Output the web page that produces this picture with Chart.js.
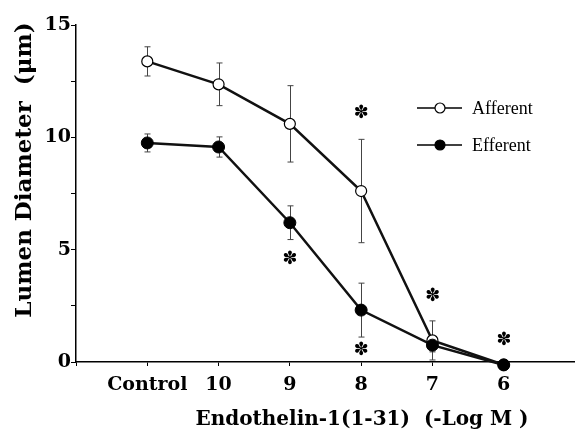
<!DOCTYPE html>
<html>
<head>
<meta charset="utf-8">
<script src="https://cdn.jsdelivr.net/npm/chart.js@4"></script>
<style>
  html, body { margin: 0; padding: 0; background: #fff; }
  canvas { display: block; }
</style>
</head>
<body>
<canvas id="diameterChart" width="575" height="430"></canvas>
<script>
// Data
const doses = ['Control', '10', '9', '8', '7', '6'];
const afferent = [13.38, 12.36, 10.6, 7.61, 0.96, -0.12];
const afferentErr = [0.65, 0.95, 1.7, 2.3, 0.87, 0];
const efferent = [9.75, 9.57, 6.2, 2.31, 0.75, -0.13];
const efferentErr = [0.4, 0.45, 0.75, 1.2, 0.3, 0];
const starDose = [3, 2, 3, 4, 5];
const starValue = [11.07, 4.58, 0.53, 2.93, 0.98];
const yTicks = [0, 5, 10, 15];

const serifBold = "'DejaVu Serif', serif";
const toPoints = arr => arr.map((v, i) => ({ x: i, y: v }));

// error bars, asterisks, legend and axis titles
const overlay = {
  id: 'overlay',
  beforeDatasetsDraw(chart) {
    const { ctx, scales: { x, y } } = chart;
    ctx.save();
    ctx.strokeStyle = '#444';
    ctx.lineWidth = 1;
    [[afferent, afferentErr], [efferent, efferentErr]].forEach(([vals, errs]) => {
      vals.forEach((v, i) => {
        if (!errs[i]) return;
        const px = Math.round(x.getPixelForValue(i)) + 0.5;
        const top = y.getPixelForValue(v + errs[i]);
        const bot = y.getPixelForValue(v - errs[i]);
        ctx.beginPath();
        ctx.moveTo(px, top); ctx.lineTo(px, bot);
        ctx.moveTo(px - 3, top); ctx.lineTo(px + 3, top);
        ctx.moveTo(px - 3, bot); ctx.lineTo(px + 3, bot);
        ctx.stroke();
      });
    });
    ctx.restore();
  },
  afterDraw(chart) {
    const { ctx, scales: { x, y } } = chart;
    ctx.save();
    ctx.fillStyle = '#000';
    ctx.textAlign = 'center';
    ctx.textBaseline = 'middle';
    ctx.font = "bold 18px 'DejaVu Sans'";
    starDose.forEach((d, i) => {
      ctx.fillText('\u273D', x.getPixelForValue(d), y.getPixelForValue(starValue[i]));
    });

    // legend
    const rows = [['Afferent', false, 108], ['Efferent', true, 145]];
    rows.forEach(([label, filled, ly]) => {
      ctx.strokeStyle = '#000';
      ctx.lineWidth = 1.5;
      ctx.beginPath();
      ctx.moveTo(417, ly); ctx.lineTo(462, ly);
      ctx.stroke();
      ctx.beginPath();
      ctx.arc(440, ly, 5, 0, Math.PI * 2);
      ctx.fillStyle = filled ? '#000' : '#fff';
      ctx.fill();
      ctx.lineWidth = 1.2;
      ctx.stroke();
      ctx.fillStyle = '#000';
      ctx.textAlign = 'left';
      ctx.font = "18px 'Liberation Serif'";
      ctx.fillText(label, 472, ly + 1);
    });

    // axis titles
    ctx.font = 'bold 20px ' + serifBold;
    ctx.textAlign = 'center';
    ctx.textBaseline = 'alphabetic';
    ctx.fillText('Endothelin-1(1-31)  (-Log M )', 362, 425);

    ctx.translate(31, 170);
    ctx.rotate(-Math.PI / 2);
    ctx.font = 'bold 23px ' + serifBold;
    ctx.fillText('Lumen Diameter  (\u03BCm)', 0, 0);
    ctx.restore();
  }
};

new Chart(document.getElementById('diameterChart'), {
  type: 'line',
  data: {
    datasets: [
      {
        label: 'Afferent',
        data: toPoints(afferent),
        borderColor: '#111',
        borderWidth: 2.5,
        pointRadius: 5.5,
        pointBackgroundColor: '#fff',
        pointBorderColor: '#000',
        pointBorderWidth: 1.2,
        tension: 0,
        clip: false,
        order: 2
      },
      {
        label: 'Efferent',
        data: toPoints(efferent),
        borderColor: '#111',
        borderWidth: 2.5,
        pointRadius: 6,
        pointBackgroundColor: '#000',
        pointBorderColor: '#000',
        pointBorderWidth: 1,
        tension: 0,
        clip: false,
        order: 1
      }
    ]
  },
  options: {
    responsive: false,
    animation: false,
    layout: { autoPadding: false, padding: { top: 25, left: 0, right: 0, bottom: 0 } },
    plugins: { legend: { display: false }, tooltip: { enabled: false } },
    scales: {
      x: {
        type: 'linear',
        min: -1,
        max: 6,
        afterFit: s => { s.height = 68; s.paddingLeft = 0; s.paddingRight = 0; },
        border: { color: '#000', width: 1.5 },
        grid: { drawOnChartArea: false, tickLength: 4, tickColor: '#000' },
        ticks: {
          stepSize: 1,
          autoSkip: false,
          maxRotation: 0,
          padding: 8,
          color: '#000',
          font: { family: serifBold, size: 19, weight: 'bold' },
          callback: v => doses[v] !== undefined ? doses[v] : ''
        }
      },
      y: {
        min: 0,
        max: 15,
        afterFit: s => { s.width = 76; },
        border: { color: '#000', width: 1.5 },
        grid: { drawOnChartArea: false, tickLength: 5, tickColor: '#000' },
        ticks: {
          stepSize: 2.5,
          padding: 0,
          color: '#000',
          font: { family: serifBold, size: 19, weight: 'bold' },
          callback: v => yTicks.includes(v) ? String(v) : ''
        }
      }
    }
  },
  plugins: [overlay]
});
</script>
</body>
</html>
